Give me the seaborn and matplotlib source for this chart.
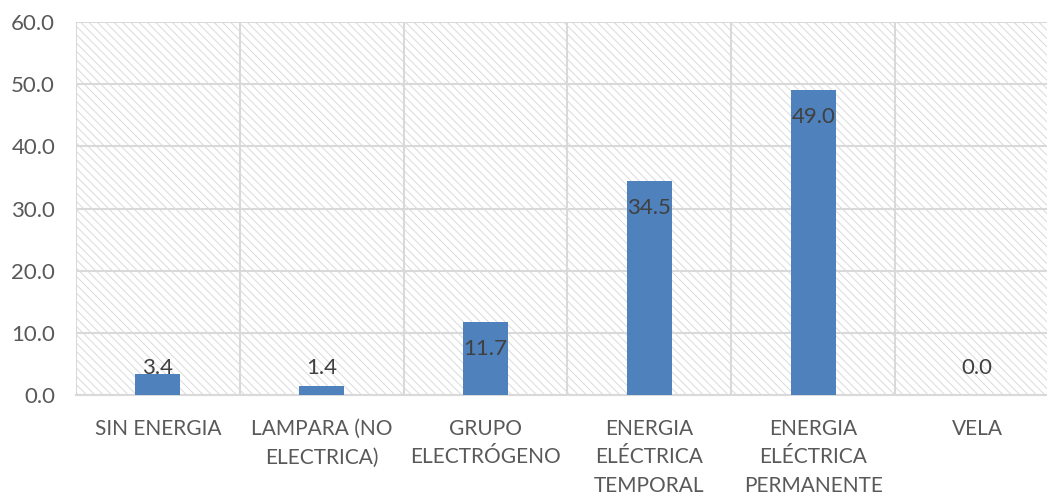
import matplotlib
matplotlib.use("Agg")
import matplotlib.pyplot as plt
import seaborn as sns
import pandas as pd
from matplotlib.patches import Rectangle

categorias = ["SIN ENERGIA", "LAMPARA (NO\nELECTRICA)", "GRUPO\nELECTRÓGENO",
              "ENERGIA\nELÉCTRICA\nTEMPORAL", "ENERGIA\nELÉCTRICA\nPERMANENTE", "VELA"]
valores = [3.4, 1.4, 11.7, 34.5, 49.0, 0.0]
yticks = [0, 10, 20, 30, 40, 50, 60]

df = pd.DataFrame({"categoria": categorias, "valor": valores})

sns.set_style("white")
plt.rcParams["font.family"] = ["Lato", "DejaVu Sans"]
plt.rcParams["hatch.linewidth"] = 0.7
plt.rcParams["hatch.color"] = "#DADADA"

fig = plt.figure(figsize=(10.47, 4.95), dpi=100)
ax = fig.add_axes([76 / 1047, 1 - 395 / 495, 983 / 1047, 373 / 495])

# fondo rayado
fondo = Rectangle((0, 0), 1, 1, transform=ax.transAxes, facecolor="white",
                  edgecolor="#DADADA", hatch="\\\\\\\\", linewidth=0, zorder=0)
ax.add_patch(fondo)

sns.barplot(data=df, x="categoria", y="valor", color="#4F81BD", saturation=1,
            width=0.275, linewidth=0, ax=ax, zorder=3)

ax.set_xlim(-0.5, 5.5)
ax.set_ylim(0, 60)
ax.set_yticks(yticks)
ax.set_yticklabels([f"{v:.1f}" for v in yticks])
ax.set_xticks([i + 0.5 for i in range(-1, 6)], minor=True)
ax.grid(True, which="major", axis="y", color="#D9D9D9", linewidth=1.5, zorder=1)
ax.grid(True, which="minor", axis="x", color="#D9D9D9", linewidth=1.5, zorder=1)
ax.set_axisbelow(True)
for s in ["top", "right", "left"]:
    ax.spines[s].set_visible(False)
ax.spines["bottom"].set_color("#D9D9D9")
ax.spines["bottom"].set_linewidth(1.5)

ax.tick_params(axis="both", which="both", length=0, labelsize=15, labelcolor="#595959")
ax.tick_params(axis="y", labelsize=16, pad=15)
ax.tick_params(axis="x", pad=17)
for lab in ax.get_xticklabels():
    lab.set_linespacing(1.55)
ax.set_xlabel("")
ax.set_ylabel("")

# etiquetas de datos
for i, v in enumerate(valores):
    ax.text(i, max(v - 4.35, 4.35), f"{v:.1f}", ha="center", va="center",
            fontsize=16, color="#404040", zorder=5)

fig.savefig("out.png", dpi=100)
